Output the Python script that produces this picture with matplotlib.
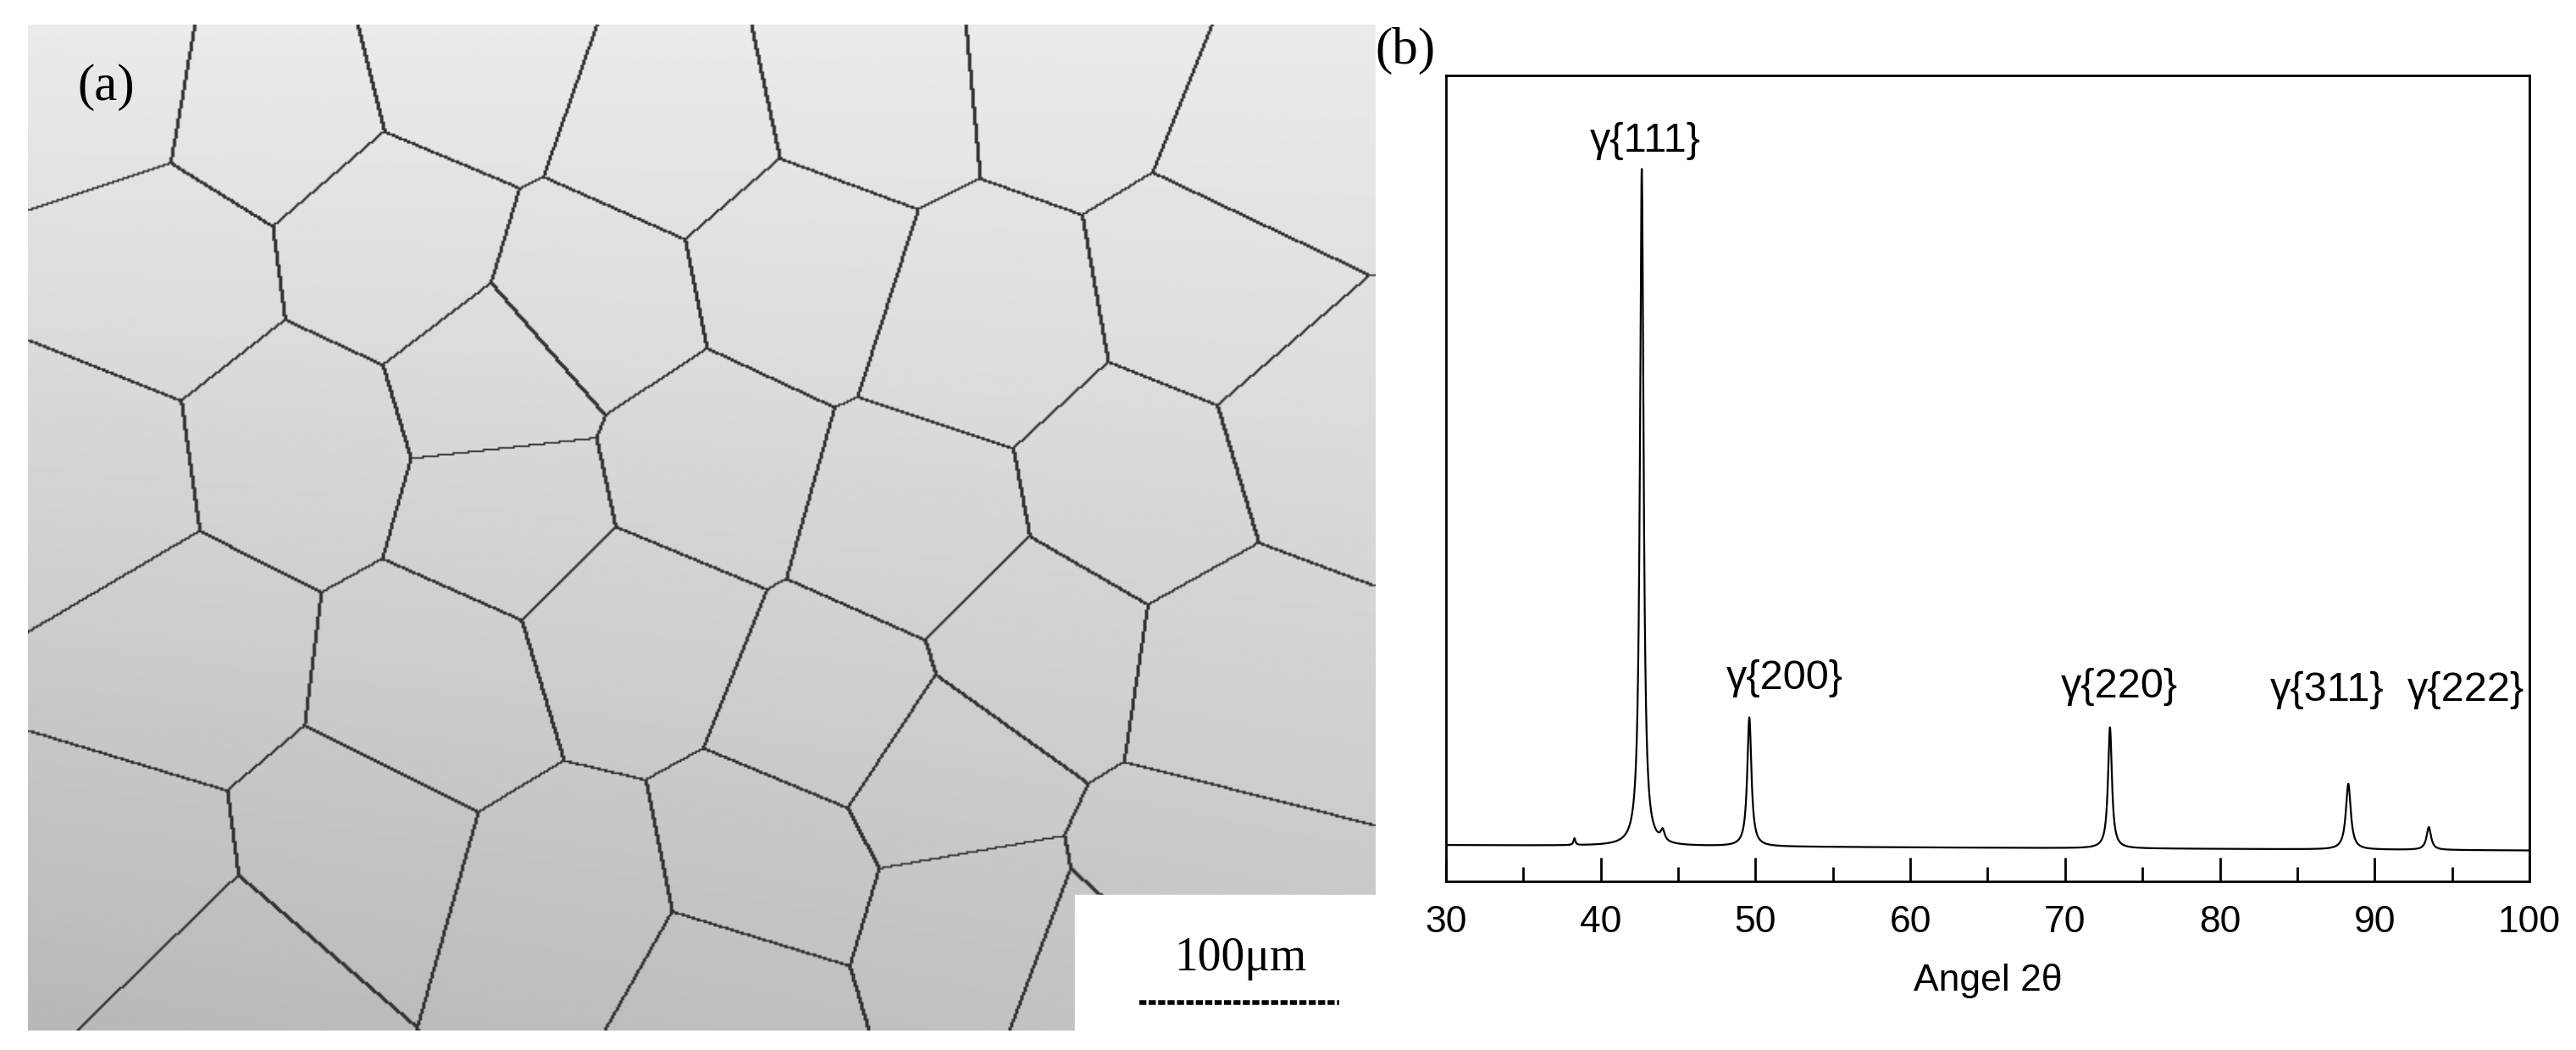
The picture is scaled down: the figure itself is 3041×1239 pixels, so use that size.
import numpy as np
import matplotlib
matplotlib.use("Agg")
import matplotlib.pyplot as plt
from matplotlib.ticker import MultipleLocator

# XRD data
peak_labels = ["γ{111}", "γ{200}", "γ{220}", "γ{311}", "γ{222}"]
peak_pos = [42.65, 49.6, 72.9, 88.3, 93.5]
peak_height = [1008, 192, 180, 98, 34]
peak_width = [0.28, 0.32, 0.3, 0.38, 0.35]
minor_pos = [38.3, 44.0]
minor_height = [10, 16]
minor_width = [0.15, 0.3]
baseline_ends = [54, 46]
label_x = [42.9, 51.9, 73.5, 86.9, 95.9]
label_y = [1102, 302, 290, 284, 284]
x_range = [30, 100]

# micrograph grain seeds (decorative)
seeds_x = [0.05, 0.18, 0.33, 0.48, 0.62, 0.78, 0.93, 0.1, 0.27, 0.42, 0.57, 0.71, 0.88,
           0.04, 0.2, 0.36, 0.5, 0.66, 0.82, 0.97, 0.12, 0.3, 0.45, 0.6, 0.75, 0.9,
           0.07, 0.24, 0.4, 0.55, 0.7, 0.86, 0.15, 0.52, 0.8, 0.35, 0.68]
seeds_y = [0.05, 0.08, 0.03, 0.1, 0.06, 0.04, 0.12, 0.25, 0.22, 0.28, 0.24, 0.3, 0.26,
           0.45, 0.42, 0.48, 0.44, 0.5, 0.46, 0.4, 0.63, 0.66, 0.6, 0.68, 0.62, 0.65,
           0.85, 0.82, 0.88, 0.84, 0.9, 0.86, 0.96, 0.97, 0.95, 0.36, 0.75]

fig = plt.figure(figsize=(30.41, 12.39), dpi=100)
W, H = 3041, 1239

# ---- panel (a)
axa = fig.add_axes([33 / W, 1 - 1216 / H, (1624 - 33) / W, (1216 - 29) / H])
nx, ny = 800, 600
gx, gy = np.meshgrid(np.linspace(0, 1, nx), np.linspace(0, 1, ny))
bg = 0.92 - 0.15 * gy - 0.05 * (1 - gx) * gy
sx = np.array(seeds_x); sy = np.array(seeds_y)
d = (gx[..., None] - sx) ** 2 + ((gy[..., None] - sy) * 0.75) ** 2
lab = np.argmin(d, axis=2)
edge = np.zeros_like(bg, dtype=bool)
edge[:, 1:] |= lab[:, 1:] != lab[:, :-1]
edge[1:, :] |= lab[1:, :] != lab[:-1, :]
edge[:, :-1] |= edge[:, 1:]
img = np.where(edge, 0.2, bg)
axa.imshow(img, cmap="gray", vmin=0, vmax=1, aspect="auto", interpolation="bilinear")
axa.set_axis_off()
fig.patches.append(plt.Rectangle((1269 / W, 1 - 1217 / H), (1624 - 1269) / W, (1217 - 1056) / H,
                                 transform=fig.transFigure, color="white", zorder=5))
fig.text(1464 / W, 1 - 1131 / H, "100μm", family="Liberation Serif", fontsize=40,
         ha="center", va="center", zorder=6)
fig.lines.append(plt.Line2D([1345 / W, 1581 / W], [1 - 1183 / H] * 2, transform=fig.transFigure,
                            color="black", lw=4, ls=(0, (1.5, 0.5)), zorder=6))
fig.text(125 / W, 1 - 103 / H, "(a)", family="Liberation Serif", fontsize=44,
         ha="center", va="center")
fig.text(1659 / W, 1 - 60 / H, "(b)", family="Liberation Serif", fontsize=44,
         ha="center", va="center")

# ---- panel (b)
axb = fig.add_axes([1707 / W, 1 - 1040 / H, (2986 - 1707) / W, (1040 - 89) / H])
x = np.linspace(x_range[0], x_range[1], 7001)
y = np.interp(x, x_range, baseline_ends)
for p, h, w in zip(peak_pos + minor_pos, peak_height + minor_height, peak_width + minor_width):
    y = y + h / (1 + ((x - p) / (w / 2)) ** 2)
axb.plot(x, y, color="black", lw=1.6)
for t, lx, ly in zip(peak_labels, label_x, label_y):
    axb.text(lx, ly, t, family="Liberation Sans", fontsize=35, ha="center", va="center")
axb.set_xlim(x_range)
axb.set_ylim(0, 1200)
axb.set_yticks([])
axb.xaxis.set_major_locator(MultipleLocator(10))
axb.xaxis.set_minor_locator(MultipleLocator(5))
axb.tick_params(axis="x", which="major", direction="in", length=20, width=2, labelsize=32, pad=20)
axb.tick_params(axis="x", which="minor", direction="in", length=12, width=2)
for lbl in axb.get_xticklabels():
    lbl.set_family("Liberation Sans")
for s in axb.spines.values():
    s.set_linewidth(2)
axb.set_xlabel("Angel 2θ", family="Liberation Sans", fontsize=32, labelpad=20)

fig.savefig("out.png", dpi=100)
